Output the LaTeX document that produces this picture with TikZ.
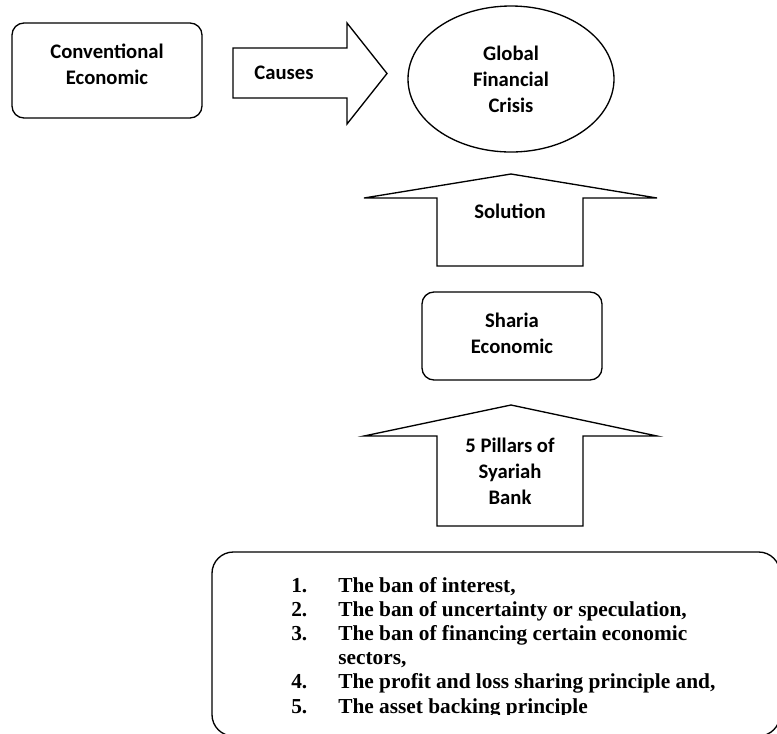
\documentclass[tikz,border=0pt]{standalone}
\usepackage{fontspec}
\setsansfont{Carlito}
\newfontfamily\listfont{Liberation Serif}
\usetikzlibrary{shapes.geometric}

\tikzset{
  softbox/.style={draw, line width=1pt, rounded corners=9pt},
  crisis/.style={draw, ellipse, line width=1pt, inner sep=0pt},
  blockarrow/.style={draw, line width=1pt, line join=miter},
  lbl/.style={font=\sffamily\bfseries\fontsize{15.5}{19.5}\selectfont, align=center, inner sep=0pt},
  pillar/.style={font=\listfont\bfseries\fontsize{16}{18.4}\selectfont, anchor=base west, inner sep=0pt}
}

\begin{document}
\begin{tikzpicture}[x=0.75pt,y=-0.75pt]
			\clip[use as bounding box] (0,0) rectangle (777,733);
			% top row
			\node[softbox, minimum width=142.5pt, minimum height=71.25pt] at (107,70.5) (conv) {};
			\node[lbl]  at (107,64.5) (convtxt) {Conventional\\Economic};
			\draw[blockarrow] (233,48) -- (347,48) -- (347,23) -- (387,73.5) -- (347,124) -- (347,98) -- (233,98) -- cycle;
			\node[lbl, anchor=base]  at (284,79) (causes) {Causes};
			\node[crisis, lbl, minimum width=154.5pt, minimum height=109.5pt] at (511,79) (gfc) {Global\\Financial\\Crisis};
			% solution
			\draw[blockarrow] (437,266) -- (437,198) -- (364,198) -- (511,174) -- (657,198) -- (583,198) -- (583,266) -- cycle;
			\node[lbl, anchor=base]  at (510,218) (sol) {Solution};
			\node[softbox, minimum width=135pt, minimum height=66pt] at (512,336) (sharia) {};
			\node[lbl]  at (512,333.5) (shariatxt) {Sharia\\Economic};
			% pillars
			\draw[blockarrow] (437,526) -- (437,436) -- (364,436) -- (511,405) -- (657,436) -- (583,436) -- (583,526) -- cycle;
			\node[lbl]  at (510,471) (pil) {5 Pillars of\\Syariah\\Bank};
			\node[softbox, rounded corners=16pt, minimum width=426pt, minimum height=138pt] at (496,644) (list) {};
			\begin{scope}
			\clip (280,565) rectangle (777,714.5);
			\node[pillar]  at (291,592)   (n1) {1.};
			\node[pillar]  at (338,592)   (t1) {The ban of interest,};
			\node[pillar]  at (291,616)   (n2) {2.};
			\node[pillar]  at (338,616)   (t2) {The ban of uncertainty or speculation,};
			\node[pillar]  at (291,640.3) (n3) {3.};
			\node[pillar]  at (338,640.3) (t3) {The ban of financing certain economic};
			\node[pillar]  at (338,664.5) (t3b) {sectors,};
			\node[pillar]  at (291,688.8) (n4) {4.};
			\node[pillar]  at (338,688.8) (t4) {The profit and loss sharing principle and,};
			\node[pillar]  at (291,713)   (n5) {5.};
			\node[pillar]  at (338,713)   (t5) {The asset backing principle};
			\end{scope}
\end{tikzpicture}
\end{document}
